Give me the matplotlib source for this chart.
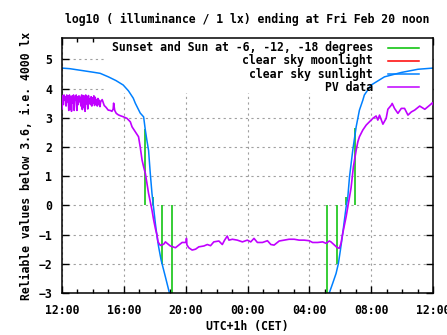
import numpy as np
import matplotlib
matplotlib.use("Agg")
import matplotlib.pyplot as plt
from matplotlib.patches import Rectangle

plt.rcParams['font.family'] = ['DejaVu Sans Mono']
plt.rcParams['font.weight'] = 'bold'
FS = 8.3

# hours after 12:00 (Thu) until 12:00 (Fri)
tick_hours = [0, 4, 8, 12, 16, 20, 24]
tick_labels = ["12:00", "16:00", "20:00", "00:00", "04:00", "08:00", "12:00"]

# clear sky sunlight (two branches, evening and morning)
sun_eve_hours = [0.0, 0.5, 1.0, 1.5, 2.0, 2.47, 3.0, 3.5, 3.96, 4.3, 4.61, 4.74, 5.06,
                 5.28, 5.39, 5.5, 5.6, 5.71, 5.82, 5.93, 6.04, 6.15, 6.25, 6.41, 6.69, 6.95, 7.05]
sun_eve_values = [4.70, 4.68, 4.64, 4.60, 4.56, 4.52, 4.40, 4.27, 4.12, 3.92, 3.67, 3.50, 3.16,
                  3.03, 2.58, 2.20, 1.88, 1.10, 0.41, -0.10, -0.62, -1.07, -1.42, -1.87, -2.45, -3.0, -3.3]
sun_mor_hours = [17.2, 17.29, 17.51, 17.73, 17.88, 18.01, 18.16, 18.27, 18.38, 18.49, 18.60,
                 18.81, 19.03, 19.24, 19.46, 19.56, 20.0, 20.86, 21.95, 23.03, 24.0]
sun_mor_values = [-3.3, -3.0, -2.67, -2.33, -1.99, -1.53, -0.96, -0.50, -0.05, 0.29, 0.98,
                  1.89, 2.69, 3.26, 3.60, 3.78, 4.12, 4.40, 4.55, 4.66, 4.70]

# clear sky moonlight: nothing above the plotted range
moon_hours = []
moon_values = []

# sunset/sunrise and sun at -6, -12, -18 degrees (impulses)
twilight_hours = [5.34, 5.89, 6.45, 7.10, 17.16, 17.81, 18.40, 18.98]
twilight_values = [2.60, 0.30, -2.0, -3.0, -3.0, -2.0, 0.30, 2.64]

# PV data, noisy part early afternoon
pv_noisy_values = [3.30, 3.75, 3.45, 3.78, 3.60, 3.72, 3.40, 3.78, 3.55, 3.75,
                   3.25, 3.78, 3.30, 3.72, 3.22, 3.75, 3.50, 3.78, 3.25, 3.70,
                   3.60, 3.78, 3.25, 3.72, 3.45, 3.75, 3.55, 3.70, 3.40, 3.78,
                   3.28, 3.76, 3.35, 3.74, 3.22, 3.78, 3.48, 3.72, 3.30, 3.76,
                   3.50, 3.65, 3.45, 3.72, 3.40, 3.68, 3.50, 3.75, 3.42, 3.70,
                   3.48, 3.62, 3.40, 3.66, 3.45, 3.60, 3.38, 3.55]
pv_hours = [2.60, 2.73, 2.86, 2.99, 3.12, 3.23, 3.31, 3.34, 3.41, 3.51, 3.64, 3.77, 3.98,
            4.20, 4.42, 4.53, 4.74, 4.95, 5.06, 5.18, 5.28, 5.39, 5.50, 5.60, 5.71, 5.82,
            5.93, 6.04, 6.15, 6.21, 6.36, 6.58, 6.69, 6.80, 7.01, 7.34, 7.55, 7.77, 8.03,
            8.05, 8.08, 8.20, 8.42, 8.64, 8.85, 9.18, 9.40, 9.61, 9.82, 10.15, 10.37, 10.52,
            10.69, 10.80, 11.02, 11.34, 11.67, 11.99, 12.21, 12.42, 12.64, 12.97, 13.29,
            13.51, 13.72, 14.05, 14.37, 14.69, 15.02, 15.34, 15.67, 15.99, 16.21, 16.54,
            16.86, 17.08, 17.29, 17.40, 17.62, 17.79, 17.94, 18.05, 18.16, 18.27, 18.38,
            18.49, 18.60, 18.70, 18.85, 19.03, 19.14, 19.24, 19.46, 19.68, 19.89, 20.11,
            20.32, 20.43, 20.54, 20.76, 20.97, 21.08, 21.30, 21.36, 21.51, 21.73, 21.95,
            22.16, 22.38, 22.60, 22.81, 23.14, 23.47, 23.79, 23.96, 24.0]
pv_values = [3.62, 3.42, 3.35, 3.26, 3.25, 3.22, 3.30, 3.50, 3.25, 3.15, 3.10, 3.07, 3.03,
             2.98, 2.86, 2.69, 2.52, 2.35, 2.00, 1.55, 1.32, 1.10, 0.75, 0.41, 0.12, -0.16,
             -0.50, -0.79, -1.03, -1.25, -1.37, -1.33, -1.25, -1.30, -1.39, -1.45, -1.36, -1.27, -1.27,
             -1.13, -1.35, -1.45, -1.53, -1.50, -1.42, -1.39, -1.34, -1.38, -1.25, -1.22, -1.34, -1.19,
             -1.05, -1.19, -1.16, -1.19, -1.25, -1.19, -1.25, -1.13, -1.27, -1.27, -1.21,
             -1.34, -1.36, -1.22, -1.19, -1.16, -1.16, -1.19, -1.19, -1.21, -1.27, -1.27,
             -1.25, -1.30, -1.22, -1.25, -1.36, -1.44, -1.47, -1.30, -0.96, -0.67, -0.39,
             -0.05, 0.29, 0.60, 1.32, 1.89, 2.18, 2.35, 2.58, 2.75, 2.86, 2.98,
             3.06, 2.92, 3.09, 2.78, 2.98, 3.29, 3.43, 3.49, 3.32, 3.15, 3.32,
             3.32, 3.09, 3.20, 3.26, 3.40, 3.29, 3.43, 3.51, 3.45]

GREEN = '#00c000'
RED = '#ff0000'
BLUE = '#0080ff'
PURPLE = '#c000ff'

fig = plt.figure(figsize=(4.47, 3.35), dpi=100)
ax = fig.add_axes([62 / 447, 42 / 335, 371 / 447, 255 / 335])

ax.set_xlim(0, 24)
ax.set_ylim(-3, 5.73)

noisy_hours = np.linspace(0, 2.5, len(pv_noisy_values))
pv_x = list(noisy_hours) + pv_hours
pv_y = pv_noisy_values + pv_values

ax.vlines(twilight_hours, 0, twilight_values, color=GREEN, lw=1.1, zorder=2)
ax.plot(moon_hours, moon_values, color=RED, lw=1.1, zorder=2)
ax.plot(sun_eve_hours, sun_eve_values, color=BLUE, lw=1.1, zorder=2)
ax.plot(sun_mor_hours, sun_mor_values, color=BLUE, lw=1.1, zorder=2)
ax.plot(pv_x, pv_y, color=PURPLE, lw=1.2, zorder=3)

# grid behind an opaque key area
ax.set_axisbelow(True)
ax.grid(True, which='major', color='#a0a0a0', lw=0.8, linestyle=(0, (2, 3)))
ax.add_patch(Rectangle((0.119, 0.784), 0.881, 0.216, transform=ax.transAxes,
                       facecolor='white', edgecolor='none', zorder=1))

# key: right-aligned text, sample line on the right
key = [("Sunset and Sun at -6, -12, -18 degrees", GREEN),
       ("clear sky moonlight", RED),
       ("clear sky sunlight", BLUE),
       ("PV data", PURPLE)]
for i, (label, col) in enumerate(key):
    y = 1 - (9.5 + i * 13.3) / 255
    ax.text((373 - 62) / 371, y, label, transform=ax.transAxes, ha='right', va='center',
            fontsize=FS, fontweight='bold', zorder=4)
    ax.plot([(388 - 62) / 371, (419 - 62) / 371], [y, y], transform=ax.transAxes,
            color=col, lw=1.1, zorder=4)

ax.set_xticks(tick_hours)
ax.set_xticklabels(tick_labels)
ax.set_xticks(range(0, 25), minor=True)
ax.set_yticks(range(-3, 6))
ax.tick_params(which='both', direction='in', top=True, right=True, labelsize=FS)
ax.tick_params(which='major', length=5, width=1)
ax.tick_params(which='minor', length=3, width=1)
ax.tick_params(axis='y', pad=7)
ax.tick_params(axis='x', pad=8)
for sp in ax.spines.values():
    sp.set_linewidth(1.1)

ax.set_xlabel("UTC+1h (CET)", fontsize=FS, fontweight='bold')
ax.xaxis.set_label_coords(0.5, -0.105)
ax.set_ylabel("Reliable values below 3.6, i.e. 4000 lx", fontsize=FS, fontweight='bold')
ax.yaxis.set_label_coords(-0.078, 0.5)

ax.text(0.5, 1.058, "log10 ( illuminance / 1 lx) ending at Fri Feb 20 noon",
        transform=ax.transAxes, ha='center', va='baseline', fontsize=FS, fontweight='bold')

fig.savefig("out.png", dpi=100)
